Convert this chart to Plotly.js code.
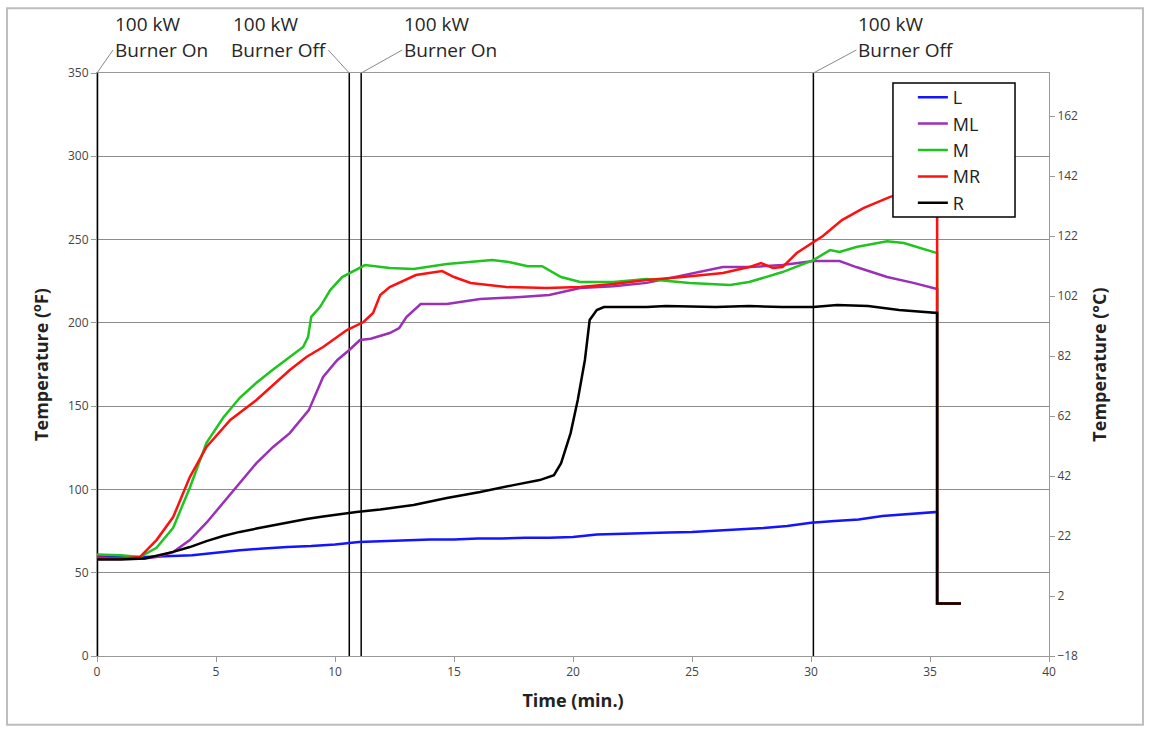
<!DOCTYPE html>
<html><head><meta charset="utf-8">
<script src="https://cdn.plot.ly/plotly-3.0.1.min.js"></script>
<style>html,body{margin:0;padding:0;background:#fff}</style>
</head><body><div id="chart" style="width:1151px;height:733px"></div>
<script>
// ---- data ----
const seriesNames = ['L', 'ML', 'M', 'MR', 'R'];

const tL = [0,1,2,3,4,5,6,7,8,9,10,11,12,13,14,15,16,17,18,19,20,21,22,23,24,25,26,27,28,29,30,31,32,33,34,35.3,35.3,36.3];
const L  = [60,59.5,59.5,60,60.5,62,63.5,64.5,65.5,66,67,68.5,69,69.5,70,70,70.5,70.5,71,71,71.5,73,73.5,74,74.2,74.5,75.2,76,76.8,78,80,81,82,84,85,86.5,31.5,31.5];

const tML = [0,1,2,2.5,3.2,3.9,4.6,5.3,6.0,6.7,7.4,8.1,8.9,9.5,10.1,10.6,11.05,11.5,12.3,12.7,13.0,13.6,14.7,16.1,17.8,19.0,20.3,21.7,23.1,24.6,26.3,27.4,28.8,30.1,31.2,31.9,33.2,34.3,35.3,35.3,36.3];
const ML  = [59,58.5,58.5,59.4,62.4,69.6,80,92,103.8,115.8,125.5,133.8,147.6,167.5,177.7,183.7,189.7,190.5,193.9,196.9,203.5,211.3,211.3,214.3,215.5,216.7,220.9,222,224,228.5,233.5,233.5,234.7,237.1,237.1,233.5,227.5,224,220.3,31.5,31.5];

const tM = [0,1,1.8,2.5,3.2,3.9,4.6,5.3,6.0,6.7,7.4,8.1,8.66,8.87,9.0,9.37,9.8,10.3,10.9,11.26,12.3,13.3,14.7,16.6,17.3,18.1,18.7,19.5,20.3,21.7,23.1,24.9,26.6,27.4,28.8,30.1,30.8,31.2,31.9,33.2,33.9,35.3,35.3,36.3];
const M  = [61,60.5,59.4,65,77,101,128,143,155,164,172,179.6,185.5,191.6,203.6,209.5,219.7,227.5,231.7,234.7,232.9,232.3,235.3,237.7,236.5,234,234,227.5,224.5,224.5,226.3,224,222.7,224.5,230.5,237.7,243.7,242.5,245.5,249,247.9,241.9,31.5,31.5];

const tMR = [0,1,1.8,2.5,3.2,3.9,4.6,5.6,6.7,8.1,8.8,9.5,10.5,11.2,11.6,11.9,12.3,13.4,14.5,15.0,15.7,17.2,18.9,20.3,21.7,23.1,24.6,26.3,27.4,27.9,28.4,28.8,29.4,30.1,30.5,31.3,32.2,33.3,34.3,35.3,35.3,36.3];
const MR  = [59,58.5,59.4,69.6,83.4,107.4,125.5,141.7,153.7,171.7,179.5,185.5,195.7,200.5,205.9,216.7,221.5,228.7,231.1,227.5,223.9,221.5,220.9,221.5,223.3,225.7,227.5,229.9,233.5,235.9,232.9,233.5,241.9,248.5,252.1,261.7,268.9,275.5,280,284,31.5,31.5];

const tR = [0,1,2,2.5,3.2,3.9,4.6,5.3,6.0,6.7,7.4,8.1,8.8,9.5,10.2,10.9,11.9,13.3,14.7,16.1,17.5,18.6,19.2,19.5,19.9,20.2,20.5,20.7,21.0,21.3,23.1,23.9,26.0,27.4,28.8,30.1,31.1,32.4,33.7,35.3,35.3,36.3];
const R  = [58,58,58.5,60,62.5,65.4,69,72,74.5,76.5,78.5,80.5,82.2,83.8,85.2,86.5,88,90.6,94.8,98.4,102.6,105.6,108.6,115.8,133.8,153.7,177.7,201.7,207.7,209.5,209.5,210.1,209.5,210.1,209.5,209.5,210.7,210.1,207.7,205.9,31.5,31.5];

const eventTimes = [0, 10.6, 11.1, 30.1];
const eventLine1 = ['100 kW', '100 kW', '100 kW', '100 kW'];
const eventLine2 = ['Burner On', 'Burner Off', 'Burner On', 'Burner Off'];

const xTicks = [0,5,10,15,20,25,30,35,40];
const yTicksF = [0,50,100,150,200,250,300,350];
const yTicksC = [-18,2,22,42,62,82,102,122,142,162];

// ---- styles ----
const colors = ['#1414ff', '#9b30b8', '#1fc41f', '#ff1010', '#000000'];
const xs = [tL, tML, tM, tMR, tR];
const ys = [L, ML, M, MR, R];
const eventWidths = [2.5, 1.5, 1.5, 1.5];
const line1Shift = [16, -118, 41, 43];
const line2Ax = [16, -21, 41, 43];
const line2Anchor = ['left', 'right', 'left', 'left'];

const traces = seriesNames.map((n, i) => ({
  x: xs[i], y: ys[i], name: n, type: 'scatter', mode: 'lines',
  line: {color: colors[i], width: 2.5}, hoverinfo: 'skip'
}));
traces.push({x: [], y: [], yaxis: 'y2', type: 'scatter', mode: 'lines', showlegend: false, hoverinfo: 'skip'});

const shapes = [];
const annotations = [];
eventTimes.forEach((t, i) => {
  shapes.push({type: 'line', xref: 'x', yref: 'y', x0: t, x1: t, y0: 0, y1: 350,
    line: {color: '#000', width: eventWidths[i]}, layer: 'between'});
  annotations.push({xref: 'x', yref: 'y', x: t, y: 350, text: eventLine1[i], showarrow: false,
    xanchor: 'left', yanchor: 'middle', xshift: line1Shift[i], yshift: 49,
    font: {family: 'Open Sans, sans-serif', size: 19, color: '#262626'}});
  annotations.push({xref: 'x', yref: 'y', x: t, y: 350, text: eventLine2[i], showarrow: true,
    arrowhead: 0, arrowwidth: 1, arrowcolor: '#888', ax: line2Ax[i], ay: -23,
    xanchor: line2Anchor[i], yanchor: 'middle',
    font: {family: 'Open Sans, sans-serif', size: 19, color: '#262626'}});
});
// legend frame
shapes.push({type: 'rect', xref: 'paper', yref: 'paper', x0: 0.8361, x1: 0.9643, y0: 0.753, y1: 0.9828,
  line: {color: '#000', width: 1.5}, fillcolor: '#fff', layer: 'above'});
// outer chart border
shapes.push({type: 'rect', xref: 'paper', yref: 'paper', x0: -0.0945, x1: 1.0987, y0: -0.118, y1: 1.111,
  line: {color: '#bdbdbd', width: 2}, fillcolor: 'rgba(0,0,0,0)', layer: 'above'});

const tickFont = {family: 'Open Sans, sans-serif', size: 12, color: '#444'};
const titleFont = {family: 'Open Sans, sans-serif', size: 18, color: '#222', weight: 'bold'};

const layout = {
  width: 1151, height: 733,
  margin: {l: 97, r: 102, t: 73, b: 77},
  paper_bgcolor: '#fff', plot_bgcolor: '#fff',
  showlegend: true,
  legend: {x: 0.857, y: 0.9897, xanchor: 'left', yanchor: 'top', bgcolor: 'rgba(0,0,0,0)',
    borderwidth: 0, font: {family: 'Open Sans, sans-serif', size: 18, color: '#222'}},
  xaxis: {range: [0, 40], tickvals: xTicks, ticks: 'outside', ticklen: 5, tickcolor: '#999',
    showgrid: false, zeroline: false, showline: true, linecolor: '#999', linewidth: 1, mirror: true,
    tickfont: tickFont, title: {text: 'Time (min.)', font: titleFont, standoff: 14}},
  yaxis: {range: [0, 350], tickvals: yTicksF, ticks: 'outside', ticklen: 5, tickcolor: '#999',
    showgrid: true, gridcolor: '#8c8c8c', gridwidth: 1, zeroline: false, showline: true, linecolor: '#999',
    tickfont: tickFont, title: {text: 'Temperature (<sup>o</sup>F)', font: titleFont, standoff: 14}},
  yaxis2: {overlaying: 'y', side: 'right', range: [-18, 176.4], tickvals: yTicksC, ticks: 'outside',
    ticklen: 5, tickcolor: '#999', showgrid: false, zeroline: false, showline: true, linecolor: '#999',
    tickfont: tickFont, title: {text: 'Temperature (°C)', font: titleFont, standoff: 16}},
  shapes: shapes,
  annotations: annotations
};

Plotly.newPlot('chart', traces, layout, {displayModeBar: false, staticPlot: true});
</script></body></html>
